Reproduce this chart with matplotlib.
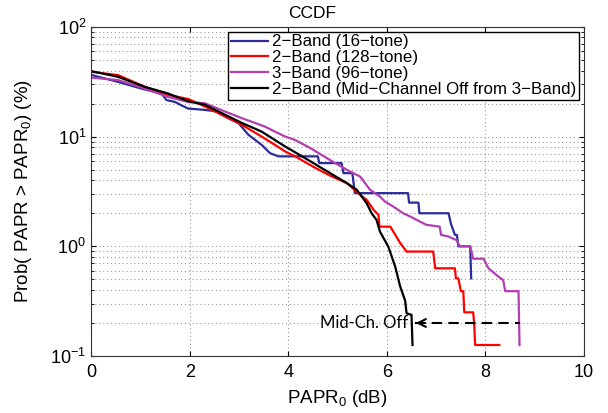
import numpy as np
import matplotlib
matplotlib.use("Agg")
import matplotlib.pyplot as plt

plt.rcParams['font.family'] = ['Liberation Sans', 'DejaVu Sans']
plt.rcParams['mathtext.default'] = 'regular'

# CCDF values (PAPR0 in dB, probability in %)
x_16 = [0, 0.55, 1.02, 1.43, 1.53, 1.70, 1.83, 1.97, 2.31, 2.58, 2.79, 2.99, 3.19, 3.46,
        3.63, 3.80, 4.60, 4.63, 5.08, 5.12, 5.30, 5.35, 6.43, 6.45, 6.64, 6.66, 7.25, 7.30,
        7.38, 7.42, 7.45, 7.69, 7.71]
y_16 = [36.5, 31.5, 27.4, 24.7, 21.5, 20.7, 19.3, 18.0, 17.5, 16.9, 14.7, 13.3, 10.4, 8.4,
        7.06, 6.6, 6.6, 5.73, 5.73, 4.64, 4.64, 3.05, 3.05, 2.5, 2.5, 2.0, 2.0, 1.6,
        1.27, 1.27, 1.0, 1.0, 0.51]

x_128 = [0, 0.55, 1.09, 1.56, 1.97, 2.31, 2.72, 3.06, 3.46, 3.73, 3.94, 4.14, 4.51, 4.85,
         5.19, 5.50, 5.59, 5.73, 5.83, 5.85, 6.07, 6.27, 6.40, 6.94, 6.98, 7.38, 7.40, 7.45,
         7.50, 7.55, 7.57, 7.75, 7.77, 7.79, 8.28]
y_128 = [39.0, 36.3, 28.4, 24.0, 22.0, 18.8, 15.2, 12.8, 10.0, 8.4, 7.3, 6.6, 5.3, 4.4,
         3.76, 2.84, 2.65, 2.15, 1.93, 1.51, 1.51, 1.07, 0.895, 0.895, 0.63, 0.63, 0.51, 0.51,
         0.39, 0.39, 0.25, 0.25, 0.2, 0.126, 0.126]

x_96 = [0, 0.55, 1.09, 1.56, 1.97, 2.31, 2.72, 3.06, 3.33, 3.53, 3.73, 3.94, 4.14, 4.46,
        4.85, 5.19, 5.46, 5.66, 5.86, 5.96, 6.13, 6.33, 6.47, 6.67, 6.80, 7.07, 7.10, 7.24,
        7.41, 7.48, 7.69, 7.75, 7.96, 8.06, 8.26, 8.36, 8.40, 8.67, 8.69]
y_96 = [34.5, 32.7, 27.4, 23.0, 20.7, 20.1, 16.9, 14.7, 13.3, 12.3, 11.1, 10.0, 9.3, 7.8,
        6.1, 4.97, 4.31, 3.27, 2.84, 2.56, 2.30, 2.00, 1.87, 1.68, 1.57, 1.51, 1.27, 1.23,
        1.14, 1.0, 1.0, 0.77, 0.77, 0.63, 0.53, 0.49, 0.39, 0.39, 0.126]

x_mid = [0, 0.55, 1.09, 1.56, 1.97, 2.31, 2.72, 3.06, 3.46, 3.73, 3.94, 4.17, 4.51, 4.85,
         5.19, 5.39, 5.59, 5.69, 5.79, 5.86, 6.03, 6.17, 6.27, 6.37, 6.40, 6.50, 6.52]
y_mid = [39.5, 35.0, 28.4, 24.7, 21.0, 19.5, 15.8, 13.3, 11.1, 9.3, 8.1, 7.06, 5.73, 4.64,
         3.76, 3.27, 2.47, 2.0, 1.74, 1.36, 0.99, 0.65, 0.43, 0.32, 0.245, 0.237, 0.126]

labels = ["2\u2212Band (16\u2212tone)", "2\u2212Band (128\u2212tone)", "3\u2212Band (96\u2212tone)",
          "2\u2212Band (Mid\u2212Channel Off from 3\u2212Band)"]
colors = ["#2b2b9b", "#ff0000", "#b23fb2", "#000000"]

# annotation: dashed arrow from 3-band tail to mid-channel-off tail
arrow_y = 0.2
arrow_x_tip = 6.53
arrow_x_tail = 8.69

fig = plt.figure(figsize=(6.08, 4.13), dpi=100)
ax = fig.add_axes([0.1497, 0.138, 0.811, 0.797])

for xs, ys, lab, c in zip([x_16, x_128, x_96, x_mid], [y_16, y_128, y_96, y_mid], labels, colors):
    ax.plot(xs, ys, color=c, linewidth=1.6, label=lab)

ax.set_yscale("log")
ax.set_xlim(0, 10)
ax.set_ylim(0.1, 100)
ax.set_xticks([0, 2, 4, 6, 8, 10])

ax.grid(True, which="major", linestyle=(0, (1, 2.5)), color="#999999", linewidth=0.8)
ax.grid(True, which="minor", axis="y", linestyle=(0, (1, 2.5)), color="#999999", linewidth=0.8)
ax.tick_params(which="both", direction="in", top=True, right=True, labelsize=13)
ax.tick_params(axis="x", pad=6)
for sp in ax.spines.values():
    sp.set_color("#333333")

ax.text(0.448, 1.018, "CCDF", transform=ax.transAxes, fontsize=12.5, ha="center", va="bottom")
ax.set_xlabel("PAPR$_0$ (dB)", fontsize=13.5, labelpad=5)
ax.set_ylabel("Prob( PAPR > PAPR$_0$) (%)", fontsize=13.5, labelpad=12)

leg = ax.legend(loc="upper right", fontsize=12.2, fancybox=False, framealpha=1,
                edgecolor="black", borderpad=0.15, labelspacing=0.05, handlelength=2.2,
                handletextpad=0.25, borderaxespad=0.3)
leg.get_frame().set_linewidth(1.0)

# dashed line + open arrowhead
ax.plot([arrow_x_tip + 0.05, arrow_x_tail], [arrow_y, arrow_y], color="black",
        linestyle="--", linewidth=1.5, dashes=(5, 3))
ax.annotate("", xy=(arrow_x_tip, arrow_y), xytext=(arrow_x_tip + 0.3, arrow_y),
            arrowprops=dict(arrowstyle="->", color="black", lw=1.5, mutation_scale=14))
ax.text(arrow_x_tip - 0.1, arrow_y, "Mid-Ch. Off", fontsize=12, family=["Lato", "DejaVu Sans"],
        ha="right", va="center")

fig.savefig("out.png", dpi=100)
